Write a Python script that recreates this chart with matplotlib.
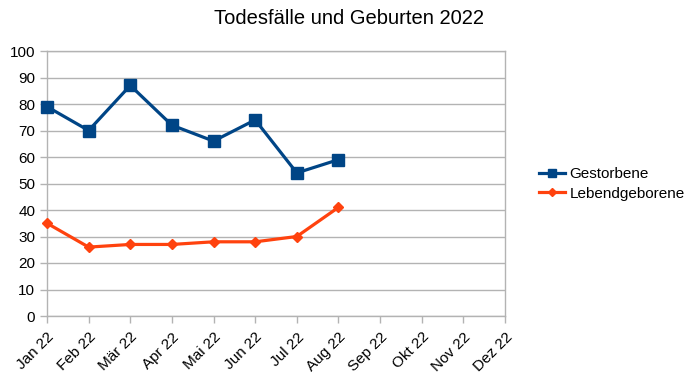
import matplotlib
matplotlib.use('Agg')
import matplotlib.pyplot as plt

months = ["Jan 22", "Feb 22", "Mär 22", "Apr 22", "Mai 22", "Jun 22",
          "Jul 22", "Aug 22", "Sep 22", "Okt 22", "Nov 22", "Dez 22"]
gestorbene = [79, 70, 87, 72, 66, 74, 54, 59]
lebendgeborene = [35, 26, 27, 27, 28, 28, 30, 41]

plt.rcParams['font.family'] = ['Liberation Sans', 'DejaVu Sans']

fig = plt.figure(figsize=(6.98, 3.81), dpi=100)
ax = fig.add_axes([47 / 698, 1 - 316 / 381, (505 - 47) / 698, (316 - 51) / 381])

grid = '#b3b3b3'
x_all = list(range(len(months)))

ax.plot(x_all[:len(gestorbene)], gestorbene, color='#004586', linewidth=2.3,
        marker='s', markersize=8.5, label='Gestorbene', clip_on=False, zorder=3)
ax.plot(x_all[:len(lebendgeborene)], lebendgeborene, color='#ff420e', linewidth=2.3,
        marker='D', markersize=5.5, label='Lebendgeborene', clip_on=False, zorder=3)

ax.set_xlim(0, len(months) - 1)
ax.set_ylim(0, 100)
ax.set_yticks(range(0, 101, 10))
ax.set_xticks(x_all)
ax.set_xticklabels(months, rotation=45, ha='right', va='top', rotation_mode='anchor')
ax.tick_params(axis='both', colors=grid, labelcolor='black', labelsize=11, length=5, width=1)
ax.tick_params(axis='x', pad=5)
ax.yaxis.grid(True, color=grid, linewidth=1)
for s in ax.spines.values():
    s.set_color(grid)
    s.set_linewidth(1)
ax.set_axisbelow(True)

fig.text(349 / 698, 1 - 18 / 381, 'Todesfälle und Geburten 2022', ha='center', va='center', fontsize=14.5)

fig.legend(loc='center left', bbox_to_anchor=(525 / 698, 1 - 184 / 381), frameon=False,
           fontsize=11, handlelength=1.7, handletextpad=0.3, labelspacing=0.35,
           markerscale=0.75)

fig.savefig('out.png', dpi=100)
